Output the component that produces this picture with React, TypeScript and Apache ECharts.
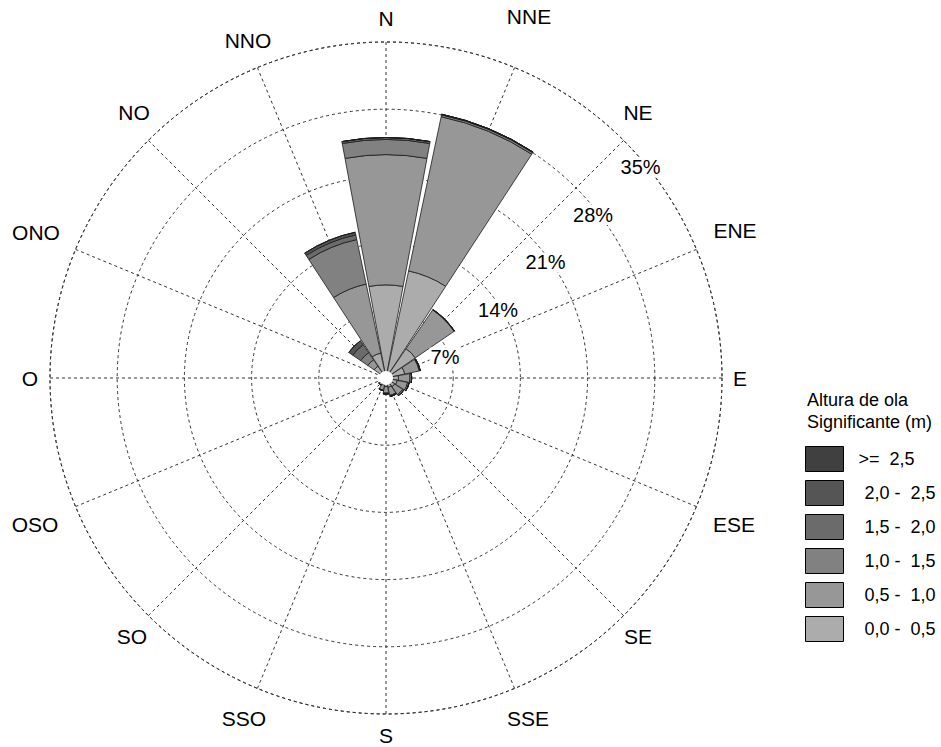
import React, { useEffect, useRef } from 'react';
import * as echarts from 'echarts';

// ---- data ----
const directions = ['N', 'NNE', 'NE', 'ENE', 'E', 'ESE', 'SE', 'SSE', 'S', 'SSO', 'SO', 'OSO', 'O', 'ONO', 'NO', 'NNO'];
const classNames = ['0,0 -  0,5', '0,5 -  1,0', '1,0 -  1,5', '1,5 -  2,0', '2,0 -  2,5', '>=  2,5'];
const h00_05 = [9.7, 11.4, 3.7, 2.0, 1.3, 1.2, 1.1, 1.0, 0.9, 0.75, 0.5, 0.35, 0.3, 0.3, 1.5, 2.65];
const h05_10 = [13.57, 16.42, 4.9, 1.55, 1.2, 1.1, 1.0, 0.85, 0.67, 0.55, 0.4, 0.25, 0.2, 0.25, 0.8, 7.35];
const h10_15 = [1.58, 0.2, 0.05, 0.1, 0.18, 0.16, 0.14, 0.12, 0.1, 0.05, 0, 0, 0, 0, 0.9, 4.74];
const h15_20 = [0.2, 0.06, 0, 0, 0, 0, 0, 0, 0, 0, 0, 0, 0, 0, 1.0, 0.5];
const h20_25 = [0, 0, 0, 0, 0, 0, 0, 0, 0, 0, 0, 0, 0, 0, 0.5, 0.28];
const h25_up = [0, 0, 0, 0, 0, 0, 0, 0, 0, 0, 0, 0, 0, 0, 0, 0];
const classValues = [h00_05, h05_10, h10_15, h15_20, h20_25, h25_up];
const radiusTicks = [7, 14, 21, 28, 35];
const radiusMax = 35;
const legendTitle = ['Altura de ola', 'Significante (m)'];

// ---- styles ----
const COLORS = ['#acacac', '#979797', '#818181', '#6b6b6b', '#555555', '#404040'];
const FONT = '"Liberation Sans", Arial, Helvetica, sans-serif';
const CX = 386;
const CY = 378;
const R = 336;
// label centre offsets from the rose centre (px)
const DIR_LABEL_OFFSETS = [
  [0, -360], [143, -362], [252, -266], [349, -148], [354, 0], [348, 146], [252, 258], [142, 340],
  [0, 357], [-142, 340], [-254, 258], [-351, 146], [-356, 0], [-350, -146], [-252, -266], [-138, -338],
];

const dashed = { color: '#333', width: 1, type: [3, 3] as any };

export default function App() {
  const ref = useRef<HTMLDivElement>(null);
  useEffect(() => {
    if (!ref.current) return;
    const chart = echarts.init(ref.current, undefined, { renderer: 'svg' });

    const series = classNames.map((name, i) => ({
      type: 'bar',
      name,
      coordinateSystem: 'polar',
      polarIndex: 1,
      stack: 'rose',
      data: classValues[i],
      barCategoryGap: '6%',
      itemStyle: { color: COLORS[i], borderColor: '#1a1a1a', borderWidth: 0.8 },
      z: 2,
    }));

    const graphics: any[] = [];
    graphics.push({
      type: 'circle',
      shape: { cx: CX, cy: CY, r: 7 },
      style: { fill: '#fff' },
      z: 100,
    });
    radiusTicks.forEach((v) => {
      const r = (v / radiusMax) * R;
      graphics.push({
        type: 'text',
        x: CX + r * Math.SQRT1_2 - 4,
        y: CY - r * Math.SQRT1_2 + 27,
        z: 100,
        style: {
          text: v + '%',
          fontSize: 20,
          fontFamily: FONT,
          fill: '#000',
          align: 'left',
          verticalAlign: 'middle',
          backgroundColor: '#fff',
          padding: [0, 1],
        },
      });
    });
    directions.forEach((d, i) => {
      graphics.push({
        type: 'text',
        x: CX + DIR_LABEL_OFFSETS[i][0],
        y: CY + DIR_LABEL_OFFSETS[i][1],
        z: 100,
        style: {
          text: d,
          fontSize: 21,
          fontFamily: FONT,
          fill: '#000',
          align: 'center',
          verticalAlign: 'middle',
        },
      });
    });
    graphics.push({
      type: 'text',
      x: 807,
      y: 389,
      z: 100,
      style: {
        text: legendTitle.join('\n'),
        fontSize: 18,
        lineHeight: 22,
        fontFamily: FONT,
        fill: '#000',
        align: 'left',
        verticalAlign: 'top',
      },
    });

    chart.setOption({
      animation: false,
      backgroundColor: '#fff',
      polar: [
        { center: [CX, CY], radius: R },
        { center: [CX, CY], radius: R },
      ],
      angleAxis: [
        {
          polarIndex: 0,
          type: 'value',
          min: 0,
          max: 360,
          interval: 22.5,
          startAngle: 90,
          clockwise: true,
          axisLine: { show: true, lineStyle: dashed },
          axisTick: { show: false },
          axisLabel: { show: false },
          splitLine: { show: true, lineStyle: dashed },
        },
        {
          polarIndex: 1,
          type: 'category',
          data: directions,
          startAngle: 90 + 11.25,
          clockwise: true,
          boundaryGap: true,
          axisLine: { show: false },
          axisTick: { show: false },
          axisLabel: { show: false },
          splitLine: { show: false },
        },
      ],
      radiusAxis: [
        {
          polarIndex: 0,
          type: 'value',
          min: 0,
          max: radiusMax,
          interval: 7,
          axisLine: { show: false },
          axisTick: { show: false },
          axisLabel: { show: false },
          splitLine: { show: true, lineStyle: dashed },
        },
        {
          polarIndex: 1,
          type: 'value',
          min: 0,
          max: radiusMax,
          axisLine: { show: false },
          axisTick: { show: false },
          axisLabel: { show: false },
          splitLine: { show: false },
        },
      ],
      legend: {
        data: classNames.slice().reverse(),
        orient: 'vertical',
        left: 805,
        top: 446,
        padding: 0,
        itemWidth: 38,
        itemHeight: 25,
        itemGap: 8,
        icon: 'rect',
        selectedMode: false,
        itemStyle: { borderColor: '#000', borderWidth: 1 },
        formatter: (name: string) => (name.startsWith('>=') ? `{a|${name}}` : `{b|${name}}`),
        textStyle: {
          fontSize: 18,
          fontFamily: FONT,
          color: '#000',
          rich: {
            a: { fontSize: 18, fontFamily: FONT, color: '#000', padding: [0, 0, 0, 10] },
            b: { fontSize: 18, fontFamily: FONT, color: '#000', padding: [0, 0, 0, 16] },
          },
        },
      },
      graphic: graphics,
      series,
    });

    return () => chart.dispose();
  }, []);

  return (
    <div
      ref={ref}
      style={{ position: 'absolute', left: 0, top: 0, width: 941, height: 747, background: '#fff' }}
    />
  );
}
